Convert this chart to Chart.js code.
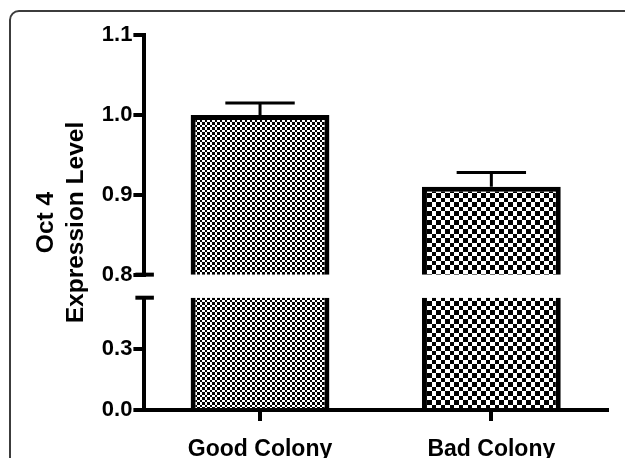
<!DOCTYPE html>
<html>
<head>
<meta charset="utf-8">
<script src="https://cdn.jsdelivr.net/npm/chart.js@4"></script>
<style>
  html, body { margin: 0; padding: 0; background: #fff; overflow: hidden; }
  #wrap { position: relative; width: 625px; height: 458px; }
  #frame {
    position: absolute; left: 9px; top: 10px; width: 640px; height: 470px;
    border: 2px solid #3c3c3c; border-radius: 10px; box-sizing: border-box;
  }
  canvas { position: absolute; left: 0; top: 0; }
</style>
</head>
<body>
<div id="wrap">
  <div id="frame"></div>
  <canvas id="chart" width="625" height="458"></canvas>
</div>
<script>
const categories = ['Good Colony', 'Bad Colony'];
const expression = [1.0, 0.91];
const sem = [0.015, 0.018];
const upperTicks = [0.8, 0.9, 1.0, 1.1];
const lowerTicks = [0.0, 0.3];
const axisTitle = ['Oct 4', 'Expression Level'];

const FONT = '"Liberation Sans", Arial, sans-serif';

// checkerboard fill, cell sizes alternate so the period can be odd-ish
function checker(ctx, cells) {
  const size = cells.reduce((a, b) => a + b, 0);
  const tile = document.createElement('canvas');
  tile.width = tile.height = size;
  const c = tile.getContext('2d');
  c.fillStyle = '#fff';
  c.fillRect(0, 0, size, size);
  c.fillStyle = '#000';
  let y = 0;
  cells.forEach((h, r) => {
    let x = 0;
    cells.forEach((w, k) => {
      if ((r + k) % 2 === 0) c.fillRect(x, y, w, h);
      x += w;
    });
    y += h;
  });
  return ctx.createPattern(tile, 'repeat');
}

const canvas = document.getElementById('chart');
const ctx = canvas.getContext('2d');
const fills = [checker(ctx, [2, 3, 2, 3]), checker(ctx, [4, 5, 4, 5])];

function segment(min, max, ticks, weight, stackWeight) {
  return {
    type: 'linear',
    position: 'left',
    stack: 'y',
    stackWeight: stackWeight,
    weight: weight,
    min: min,
    max: max,
    afterBuildTicks: s => { s.ticks = ticks.map(v => ({ value: v })); },
    ticks: {
      font: { family: FONT, size: 22, weight: 'bold' },
      color: '#000',
      padding: 1,
      callback: v => Number(v).toFixed(1)
    },
    grid: {
      drawOnChartArea: false,
      tickLength: 11,
      tickWidth: 4,
      tickColor: '#000',
      lineWidth: 4,
      color: '#000'
    },
    border: { display: true, width: 4, color: '#000' }
  };
}

const bar = {
  data: expression,
  backgroundColor: fills,
  borderColor: '#000',
  borderWidth: 5,
  borderSkipped: 'bottom',
  barPercentage: 0.6,
  categoryPercentage: 1,
  grouped: false
};

// keep each copy of the bars inside its own axis segment
const segmentClip = {
  id: 'segmentClip',
  beforeDatasetDraw(chart, args) {
    const ys = args.meta.yScale;
    const a = chart.chartArea;
    chart.ctx.save();
    chart.ctx.beginPath();
    chart.ctx.rect(a.left, ys.top, a.right - a.left, ys.bottom - ys.top);
    chart.ctx.clip();
  },
  afterDatasetDraw(chart) {
    chart.ctx.restore();
  }
};

const errorBars = {
  id: 'errorBars',
  afterDatasetsDraw(chart) {
    const y = chart.scales.yTop;
    const meta = chart.getDatasetMeta(0);
    const c = chart.ctx;
    c.save();
    c.strokeStyle = '#000';
    c.lineWidth = 3;
    meta.data.forEach((el, i) => {
      const top = y.getPixelForValue(expression[i] + sem[i]);
      const half = el.width / 4;
      c.beginPath();
      c.moveTo(el.x, y.getPixelForValue(expression[i]));
      c.lineTo(el.x, top);
      c.moveTo(el.x - half, top);
      c.lineTo(el.x + half, top);
      c.stroke();
    });
    c.restore();
  }
};

const breakCaps = {
  id: 'breakCaps',
  afterDraw(chart) {
    const c = chart.ctx;
    const x = chart.scales.yTop.right;
    c.save();
    c.strokeStyle = '#000';
    c.lineWidth = 4;
    [chart.scales.yTop.bottom, chart.scales.yBot.top].forEach(py => {
      c.beginPath();
      c.moveTo(x - 9, py);
      c.lineTo(x + 9.5, py);
      c.stroke();
    });
    c.restore();
  }
};

new Chart(ctx, {
  type: 'bar',
  data: {
    labels: categories,
    datasets: [
      Object.assign({ yAxisID: 'yTop' }, bar),
      Object.assign({ yAxisID: 'yBot' }, bar)
    ]
  },
  options: {
    responsive: false,
    animation: false,
    layout: { padding: { left: 22, right: 18, top: 35, bottom: 0 } },
    plugins: { legend: { display: false }, tooltip: { enabled: false } },
    scales: {
      x: {
        type: 'category',
        offset: true,
        z: 1,
        afterFit: s => { s.height = 48; },
        grid: {
          drawOnChartArea: false,
          offset: false,
          tickLength: 11,
          tickWidth: 4,
          tickColor: '#000',
          lineWidth: 4,
          color: '#000'
        },
        border: { display: true, width: 4, color: '#000' },
        ticks: {
          font: { family: FONT, size: 23, weight: 'bold', lineHeight: 1 },
          color: '#000',
          padding: 17,
          maxRotation: 0
        }
      },
      yTitle: {
        type: 'linear',
        position: 'left',
        weight: 10,
        ticks: { display: false },
        grid: { display: false },
        border: { display: false },
        title: {
          display: true,
          text: axisTitle,
          color: '#000',
          font: { family: FONT, size: 24.5, weight: 'bold', lineHeight: 1.2 },
          padding: { top: 10, bottom: 2 }
        }
      },
      yTop: segment(0.8, 1.1, upperTicks, 3, 239),
      yGap: {
        type: 'linear',
        position: 'left',
        stack: 'y',
        stackWeight: 23,
        weight: 2,
        ticks: { display: false },
        grid: { display: false },
        border: { display: false }
      },
      yBot: segment(0, 0.55, lowerTicks, 1, 112)
    }
  },
  plugins: [segmentClip, errorBars, breakCaps]
});
</script>
</body>
</html>
